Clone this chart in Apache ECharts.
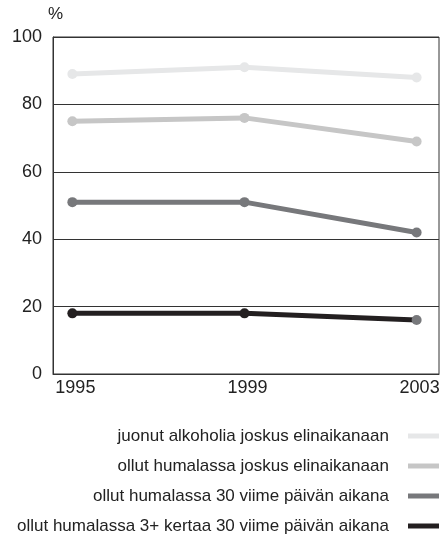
<!DOCTYPE html>
<html>
<head>
<meta charset="utf-8">
<script src="https://cdn.jsdelivr.net/npm/echarts@6/dist/echarts.min.js"></script>
<style>
html,body{margin:0;padding:0;background:#fff;}
#chart{width:445px;height:536px;}
</style>
</head>
<body>
<div id="chart"></div>
<script>
var years = [1995, 1999, 2003];
var seriesNames = [
  'juonut alkoholia joskus elinaikanaan',
  'ollut humalassa joskus elinaikanaan',
  'ollut humalassa 30 viime päivän aikana',
  'ollut humalassa 3+ kertaa 30 viime päivän aikana'
];
var drankEver = [89, 91, 88];
var drunkEver = [75, 76, 69];
var drunk30 = [51, 51, 42];
var drunk3plus30 = [18, 18, 16];
var yTicks = [0, 20, 40, 60, 80, 100];
var xTickLabels = [1995, 1999, 2003];

var colors = ['#e6e7e8', '#c6c6c6', '#77787b', '#231f20'];
var allValues = [drankEver, drunkEver, drunk30, drunk3plus30];
var FONT = '"Liberation Sans", Arial, Helvetica, sans-serif';

function buildData(vals, idx) {
  return vals.map(function (v, i) {
    var item = { value: [years[i], v] };
    if (idx === 3 && i === vals.length - 1) {
      item.itemStyle = { color: colors[2] };
    }
    return item;
  });
}

var series = allValues.map(function (vals, idx) {
  return {
    name: seriesNames[idx],
    type: 'line',
    data: buildData(vals, idx),
    symbol: 'circle',
    symbolSize: 10,
    lineStyle: { width: 5, color: colors[idx] },
    itemStyle: { color: colors[idx] },
    silent: true,
    animation: false
  };
});

var chart = echarts.init(document.getElementById('chart'), null, { renderer: 'canvas' });
chart.setOption({
  animation: false,
  backgroundColor: '#fff',
  textStyle: { fontFamily: FONT },
  grid: {
    left: 53, right: 6, top: 37, bottom: 162,
    show: true, borderColor: '#333', borderWidth: 1
  },
  xAxis: {
    type: 'value',
    min: 1994.55,
    max: 2003.52,
    axisLine: { show: true, lineStyle: { color: '#333', width: 1 } },
    axisTick: { show: false },
    splitLine: { show: false },
    axisLabel: {
      customValues: xTickLabels,
      color: '#222',
      fontSize: 18,
      fontFamily: FONT,
      margin: 5,
      padding: [0, 0, 0, 6],
      formatter: function (v) { return String(v); }
    }
  },
  yAxis: {
    type: 'value',
    min: yTicks[0],
    max: yTicks[yTicks.length - 1],
    interval: 20,
    name: '%',
    nameLocation: 'end',
    nameGap: 14,
    nameTextStyle: { color: '#222', fontSize: 17, fontFamily: FONT, align: 'left', padding: [0, 0, 0, -5] },
    axisLine: { show: true, lineStyle: { color: '#333', width: 1 } },
    axisTick: { show: false },
    splitLine: { show: true, lineStyle: { color: '#333', width: 1 } },
    axisLabel: { color: '#222', fontSize: 18, fontFamily: FONT, margin: 11 }
  },
  legend: {
    orient: 'vertical',
    right: 6,
    top: 426,
    height: 130,
    align: 'right',
    itemWidth: 31,
    itemHeight: 5,
    itemGap: 10,
    padding: 0,
    icon: 'rect',
    selectedMode: false,
    formatter: function (name) { return name + '   '; },
    textStyle: { color: '#222', fontSize: 17, fontFamily: FONT, lineHeight: 20 },
    data: seriesNames.map(function (n, i) {
      return { name: n, itemStyle: { color: colors[i] } };
    })
  },
  series: series
});
</script>
</body>
</html>
